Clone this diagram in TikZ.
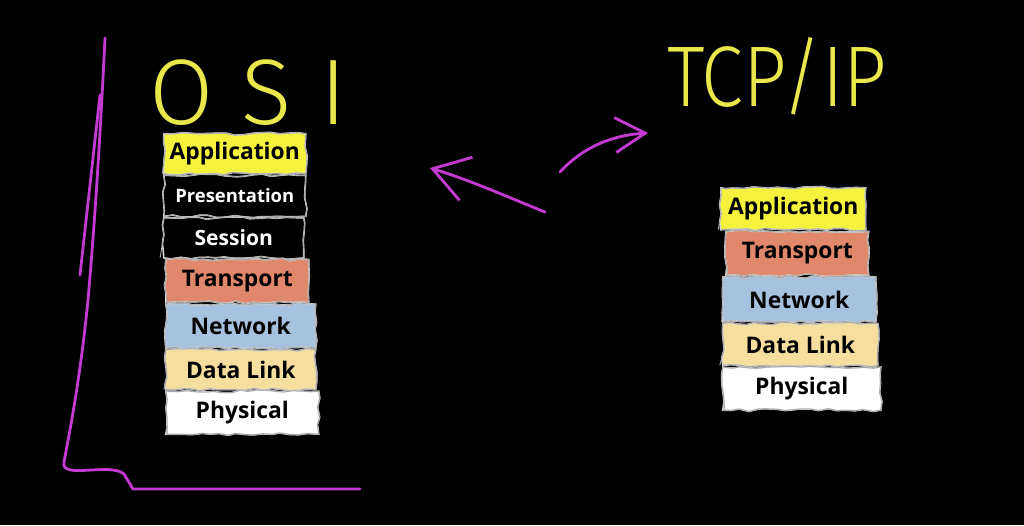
\documentclass[tikz,border=0pt]{standalone}
\usepackage{fontspec}
\setmainfont{Open Sans}
\newfontfamily\osifont[LetterSpace=30]{Fira Sans Light}
\newfontfamily\tcpfont[FakeStretch=0.88]{Fira Sans Light}
\usetikzlibrary{arrows.meta,positioning,decorations.pathmorphing}
\definecolor{appyellow}{HTML}{F4F23C}
\definecolor{transred}{HTML}{E0876C}
\definecolor{netblue}{HTML}{A7C2DE}
\definecolor{linkwheat}{HTML}{F6DE9F}
\definecolor{penpink}{HTML}{C63AD4}
\definecolor{chalk}{HTML}{D6D6D6}
\definecolor{inkyellow}{HTML}{E9E74C}

\begin{document}
\begin{tikzpicture}[x=0.02cm,y=-0.02cm,node distance=0pt,
  layer/.style={draw=chalk,line width=0.9pt,minimum height=0.8cm,inner sep=0pt,
  font=\bfseries\fontsize{13}{15}\selectfont,
  decorate,decoration={random steps,segment length=5pt,amplitude=0.8pt},
  postaction={draw=gray!70,line width=0.5pt,decorate,
    decoration={random steps,segment length=9pt,amplitude=1.3pt}}},
  dark/.style={fill=black,text=white},
  pen/.style={draw=penpink,line width=1.6pt,line cap=round,line join=round},
  barb/.style={-{Straight Barb[length=6mm,width=7mm,line width=1.6pt]}}]
\useasboundingbox (0,0) rectangle (1024,525);
\fill[black] (0,0) rectangle (1024,525);
% titles
\node[text=inkyellow,inner sep=0pt,anchor=base,font=\osifont\fontsize{53}{56}\selectfont] (osi) at (248,124) {OSI};
\node[text=inkyellow,inner sep=0pt,anchor=base,font=\tcpfont\fontsize{49}{52}\selectfont] (tcp) at (777,106) {TCP/IP};
% OSI stack
\node[layer,fill=appyellow,minimum width=2.84cm,anchor=north west] (oapp) at (163,133) {Application};
\node[layer,dark,font=\bfseries\fontsize{10.5}{12}\selectfont,minimum width=2.84cm,minimum height=0.82cm,
  below=of oapp.south west,anchor=north west] (opres) {Presentation};
\node[layer,dark,font=\bfseries\fontsize{12}{14}\selectfont,minimum width=2.8cm,
  below=of opres.south west,anchor=north west] (osess) {Session};
\node[layer,fill=transred,minimum width=2.86cm,minimum height=0.86cm,
  below=of osess.south west,anchor=north west,xshift=0.04cm] (otrans) {Transport};
\node[layer,fill=netblue,minimum width=3cm,minimum height=0.88cm,
  below=of otrans.south west,anchor=north west] (onet) {Network};
\node[layer,fill=linkwheat,minimum width=3cm,
  below=of onet.south west,anchor=north west] (olink) {Data Link};
\node[layer,fill=white,minimum width=3.06cm,minimum height=0.86cm,
  below=of olink.south west,anchor=north west] (ophys) {Physical};
% TCP/IP stack
\node[layer,fill=appyellow,minimum width=2.9cm,minimum height=0.84cm,anchor=north west] (tapp) at (720,187) {Application};
\node[layer,fill=transred,minimum width=2.86cm,minimum height=0.88cm,
  below=of tapp.south west,anchor=north west,xshift=0.1cm] (ttrans) {Transport};
\node[layer,fill=netblue,minimum width=3.06cm,minimum height=0.9cm,
  below=of ttrans.south west,anchor=north west,xshift=-0.06cm] (tnet) {Network};
\node[layer,fill=linkwheat,minimum width=3.1cm,minimum height=0.84cm,
  below=of tnet.south west,anchor=north west] (tlink) {Data Link};
\node[layer,fill=white,minimum width=3.16cm,minimum height=0.86cm,
  below=of tlink.south west,anchor=north west] (tphys) {Physical};
% bracket
\draw[pen] (105,38) .. controls (100,140) and (95,220) .. (88,300)
  .. controls (80,380) and (70,430) .. (64,462)
  .. controls (60,480) and (110,462) .. (124,474) -- (133,489) -- (360,489);
\draw[pen] (100,95) -- (80,275);
% arrows
\coordinate (a1s) at (545,212); \coordinate (a1e) at (430,168);
\coordinate (a2s) at (560,172); \coordinate (a2e) at (648,133);
\draw[pen,barb,-{Straight Barb[length=7mm,width=9mm,line width=1.6pt]}] (a1s) .. controls (510,198) and (470,180) .. (a1e);
\draw[pen,barb] (a2s) .. controls (585,145) and (615,135) .. (a2e);
\end{tikzpicture}
\end{document}
